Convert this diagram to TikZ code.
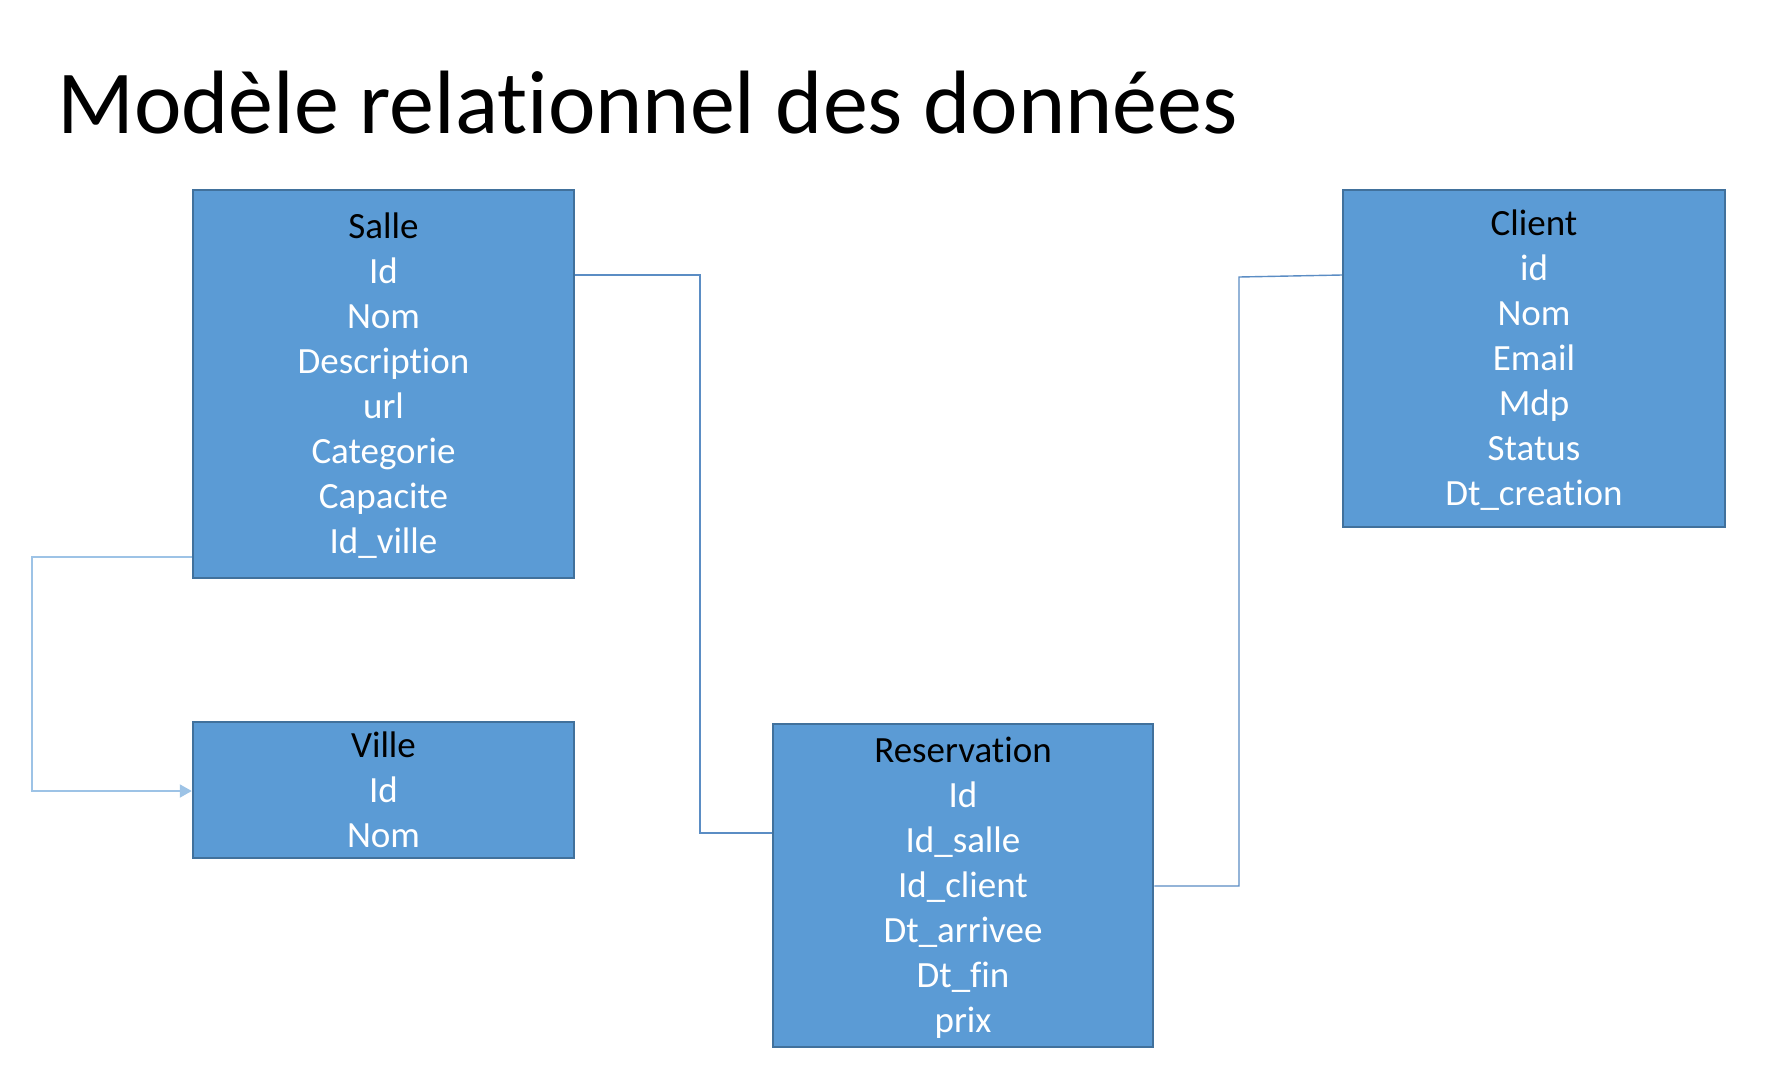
\documentclass[tikz,border=0pt]{standalone}
\usepackage{fontspec}
\setmainfont{Carlito}[RawFeature={-liga}]
\usetikzlibrary{arrows.meta}
\definecolor{boxfill}{HTML}{5B9BD5}
\definecolor{boxedge}{HTML}{41719C}
\definecolor{connA}{HTML}{5B8DC4}
\definecolor{connB}{HTML}{9DC3E6}
\tikzset{
  table/.style={rectangle, draw=boxedge, line width=2.5pt, fill=boxfill, text=white,
    align=center, inner sep=0pt, font=\fontsize{37}{45}\selectfont},
  conn/.style={draw=connA, line width=1.4pt},
  connlight/.style={draw=connB, line width=2pt},
}
\newcommand{\hd}[1]{\rule{0pt}{35pt}\textcolor{black}{#1}}
\newcommand{\lastrow}[1]{#1\rule[-11pt]{0pt}{11pt}}
\begin{document}
\begin{tikzpicture}[x=1pt,y=-1pt]
\useasboundingbox (0,0) rectangle (1766,1066);
\fill[white] (0,0) rectangle (1766,1066);

\node[anchor=base west, inner sep=0pt, font=\fontsize{90}{108}\selectfont] (title) at (57,133) {Modèle relationnel des données};

\node[table, minimum width=381pt, minimum height=388pt] (Salle) at (383.5,384)
  {\hd{Salle}\\Id\\Nom\\Description\\url\\Categorie\\Capacite\\\lastrow{Id\_ville}};
\node[table, minimum width=382pt, minimum height=337pt] (Client) at (1534,358.5)
  {\hd{Client}\\id\\Nom\\Email\\Mdp\\Status\\\lastrow{Dt\_creation}};
\node[table, minimum width=381pt, minimum height=132pt] (Ville) at (383.5,790)
  {\hd{Ville}\\Id\\\lastrow{Nom}};
\node[table, minimum width=380pt, minimum height=323pt] (Reservation) at (963,885.5)
  {\hd{Reservation}\\Id\\Id\_salle\\Id\_client\\Dt\_arrivee\\Dt\_fin\\\lastrow{prix}};

\coordinate (c1) at (700,275);
\coordinate (c2) at (1239,277);
\coordinate (c3) at (32,557);

\draw[conn] (Salle.east |- c1) -- (c1) |- (Reservation.west |- 0,833);
\draw[conn] (Client.west |- 0,275) -- (c2) |- (Reservation.east |- 0,886);
\draw[connlight, -{Triangle[length=12pt,width=13pt]}] (Salle.west |- c3) -- (c3) |- (Ville.west |- 0,791);
\end{tikzpicture}
\end{document}
